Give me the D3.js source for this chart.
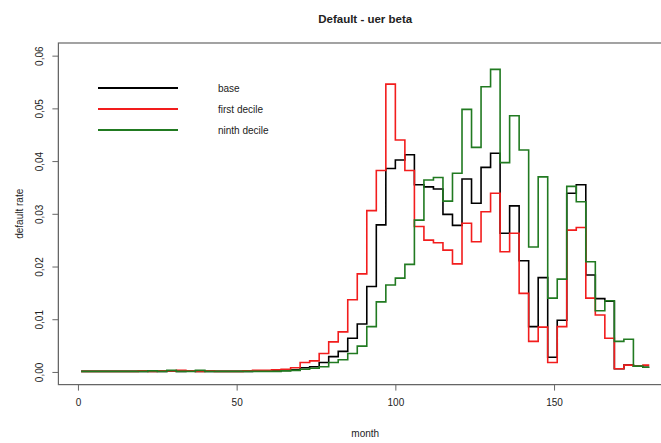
<!DOCTYPE html>
<html>
<head>
<meta charset="utf-8">
<script src="https://cdn.jsdelivr.net/npm/d3@7"></script>
<style>
  body { margin: 0; background: #fff; }
  text { font-family: "Liberation Sans", Arial, sans-serif; fill: #222; }
</style>
</head>
<body>
<svg id="chart" width="661" height="443"></svg>
<script>
// Month at which each three-month period starts (values are constant within a period)
const periodStart = [
  1, 4, 7, 10, 13, 16, 19, 22, 25, 28, 31, 34, 37, 40, 43, 46, 49, 52, 55, 58,
  61, 64, 67, 70, 73, 76, 79, 82, 85, 88, 91, 94, 97, 100, 103, 106, 109, 112, 115, 118,
  121, 124, 127, 130, 133, 136, 139, 142, 145, 148, 151, 154, 157, 160, 163, 166, 169, 172, 175, 178
];
const lastMonth = 180;

// Default rate per period
const base = [
  0.0001, 0.0001, 0.0001, 0.0001, 0.0001, 0.0001, 0.0001, 0.0001, 0.0001, 0.0002,
  0.0001, 0.0002, 0.0001, 0.0001, 0.0001, 0.0001, 0.0001, 0.0001, 0.0002, 0.0002,
  0.0002, 0.0003, 0.0004, 0.0008, 0.0010, 0.0018, 0.0029, 0.0039, 0.0064, 0.0091,
  0.0162, 0.0279, 0.0386, 0.0402, 0.0412, 0.0355, 0.0351, 0.0347, 0.0299, 0.0278,
  0.0366, 0.0320, 0.0388, 0.0415, 0.0263, 0.0315, 0.0211, 0.0086, 0.0179, 0.0028,
  0.0098, 0.0339, 0.0355, 0.0184, 0.0139, 0.0134, 0.0006, 0.0013, 0.0011, 0.0009
];
const firstDecile = [
  0.0001, 0.0001, 0.0001, 0.0001, 0.0001, 0.0001, 0.0002, 0.0001, 0.0002, 0.0002,
  0.0003, 0.0002, 0.0001, 0.0002, 0.0001, 0.0001, 0.0001, 0.0002, 0.0003, 0.0003,
  0.0004, 0.0005, 0.0008, 0.0018, 0.0021, 0.0035, 0.0057, 0.0076, 0.0137, 0.0186,
  0.0306, 0.0382, 0.0546, 0.0440, 0.0382, 0.0276, 0.0250, 0.0245, 0.0231, 0.0205,
  0.0282, 0.0247, 0.0304, 0.0339, 0.0228, 0.0263, 0.0149, 0.0058, 0.0085, 0.0018,
  0.0086, 0.0269, 0.0274, 0.0140, 0.0108, 0.0064, 0.0006, 0.0013, 0.0011, 0.0013
];
const ninthDecile = [
  0.0001, 0.0001, 0.0001, 0.0001, 0.0001, 0.0001, 0.0001, 0.0002, 0.0001, 0.0003,
  0.0001, 0.0001, 0.0003, 0.0001, 0.0001, 0.0001, 0.0001, 0.0001, 0.0001, 0.0001,
  0.0001, 0.0002, 0.0003, 0.0005, 0.0007, 0.0010, 0.0018, 0.0023, 0.0035, 0.0049,
  0.0086, 0.0133, 0.0165, 0.0178, 0.0204, 0.0288, 0.0364, 0.0369, 0.0324, 0.0377,
  0.0498, 0.0426, 0.0541, 0.0574, 0.0397, 0.0486, 0.0421, 0.0237, 0.0370, 0.0140,
  0.0176, 0.0352, 0.0323, 0.0209, 0.0116, 0.0135, 0.0058, 0.0062, 0.0011, 0.0009
];

const seriesNames = ["base", "first decile", "ninth decile"];
const xTicks = [0, 50, 100, 150];
const yTicks = [0, 0.01, 0.02, 0.03, 0.04, 0.05, 0.06];
const xDomain = [-6.16, 187.16];
const yDomain = [-0.0024, 0.0624];

const colors = ["#000000", "#f21d1d", "#217a21"];
const seriesValues = [base, firstDecile, ninthDecile];

const svg = d3.select("#chart");
svg.append("rect").attr("width", 661).attr("height", 443).attr("fill", "#fff");

const plot = { left: 58.4, right: 672, top: 43, bottom: 384.6 };
const x = d3.scaleLinear().domain(xDomain).range([plot.left, plot.right]);
const y = d3.scaleLinear().domain(yDomain).range([plot.bottom, plot.top]);

// Title
svg.append("text")
  .attr("x", (plot.left + plot.right) / 2)
  .attr("y", 23)
  .attr("text-anchor", "middle")
  .style("font-weight", "bold")
  .style("font-size", "11.5px")
  .text("Default - uer beta");

// Series as step lines
const line = d3.line()
  .x(d => x(d.m))
  .y(d => y(d.v))
  .curve(d3.curveStepAfter);

seriesValues.forEach((vals, i) => {
  const pts = periodStart.map((m, j) => ({ m, v: vals[j] }));
  pts.push({ m: lastMonth, v: vals[vals.length - 1] });
  svg.append("path")
    .datum(pts)
    .attr("fill", "none")
    .attr("stroke", colors[i])
    .attr("stroke-width", 1.6)
    .attr("stroke-linejoin", "miter")
    .attr("d", line);
});

// Plot frame
svg.append("rect")
  .attr("x", plot.left).attr("y", plot.top)
  .attr("width", plot.right - plot.left).attr("height", plot.bottom - plot.top)
  .attr("fill", "none").attr("stroke", "#666").attr("stroke-width", 1.2);

// X axis
const xAxis = d3.axisBottom(x).tickValues(xTicks).tickSize(6).tickPadding(8)
  .tickFormat(d3.format("d"));
const gx = svg.append("g").attr("transform", `translate(0,${plot.bottom})`).call(xAxis);
gx.select(".domain").attr("d", `M${x(xTicks[0])},0H${x(xTicks[xTicks.length - 1])}`)
  .attr("stroke", "#666");
gx.selectAll(".tick line").attr("stroke", "#666");
gx.selectAll(".tick text").style("font-size", "10px").attr("fill", "#333")
  .style("font-family", "Liberation Sans, Arial, sans-serif");

// Y axis (labels parallel to the axis)
const commaFmt = v => d3.format(".2f")(v).replace(".", ",");
const yAxis = d3.axisLeft(y).tickValues(yTicks).tickSize(6).tickFormat(commaFmt);
const gy = svg.append("g").attr("transform", `translate(${plot.left},0)`).call(yAxis);
gy.select(".domain").attr("d", `M0,${y(yTicks[0])}V${y(yTicks[yTicks.length - 1])}`)
  .attr("stroke", "#666");
gy.selectAll(".tick line").attr("stroke", "#666");
gy.selectAll(".tick text")
  .attr("x", null).attr("dy", null)
  .attr("text-anchor", "middle")
  .attr("transform", "translate(-15,0) rotate(-90)")
  .style("font-size", "10px").attr("fill", "#333")
  .style("font-family", "Liberation Sans, Arial, sans-serif");

// Axis titles
svg.append("text")
  .attr("x", (plot.left + plot.right) / 2).attr("y", 437)
  .attr("text-anchor", "middle").style("font-size", "10px")
  .text("month");
svg.append("text")
  .attr("transform", `translate(23,${(plot.top + plot.bottom) / 2}) rotate(-90)`)
  .attr("text-anchor", "middle").style("font-size", "10px")
  .text("default rate");

// Legend
const legend = svg.append("g").attr("transform", "translate(98,88)");
seriesNames.forEach((name, i) => {
  const gy0 = i * 21;
  legend.append("line")
    .attr("x1", 0).attr("x2", 80).attr("y1", gy0).attr("y2", gy0)
    .attr("stroke", colors[i]).attr("stroke-width", 2);
  legend.append("text")
    .attr("x", 120).attr("y", gy0 + 3.5)
    .style("font-size", "10px")
    .text(name);
});
</script>
</body>
</html>
